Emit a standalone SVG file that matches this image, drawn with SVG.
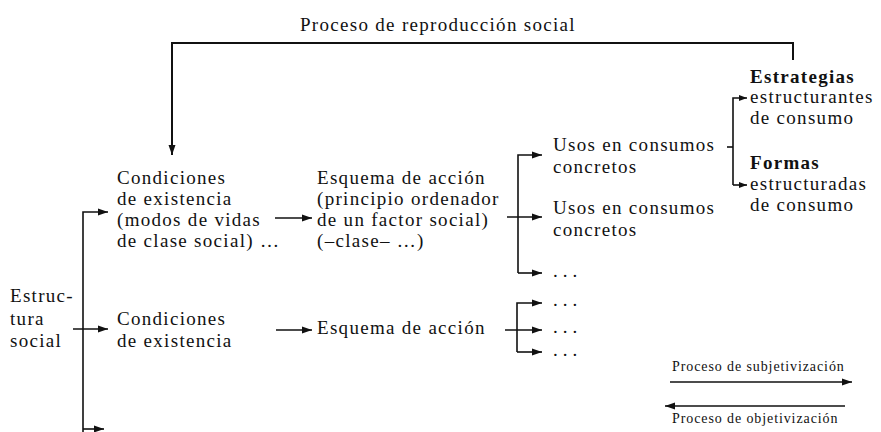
<svg xmlns="http://www.w3.org/2000/svg" width="881" height="432" viewBox="0 0 881 432">
<style>
text{font-family:"Liberation Serif","Times New Roman",serif;fill:#111}
.t{font-size:19px;letter-spacing:1.3px}
.b{font-weight:bold}
.s{font-size:14px;letter-spacing:0.9px}
.ln{fill:none;stroke:#111;stroke-width:1.6}
.th{stroke-width:2}
</style>
<defs>
<marker id="ah" markerUnits="userSpaceOnUse" markerWidth="11" markerHeight="8" refX="10" refY="4" orient="auto"><path d="M0,0.5 L10,4 L0,7.5 z" fill="#111"/></marker>
<marker id="as" markerUnits="userSpaceOnUse" markerWidth="9" markerHeight="7" refX="8" refY="3.5" orient="auto"><path d="M0,0.5 L8,3.5 L0,6.5 z" fill="#111"/></marker>
</defs>
<g id="connectors">
<path class="ln th" d="M793,60 V43 H172 V155" marker-end="url(#ah)"/>
<path class="ln" d="M83,440 V212 H108" marker-end="url(#ah)"/>
<path class="ln" d="M73,329 H108" marker-end="url(#ah)"/>
<path class="ln" d="M83,429 H104" marker-end="url(#ah)"/>
<path class="ln" d="M275,218 H312" marker-end="url(#ah)"/>
<path class="ln" d="M276,330 H312" marker-end="url(#ah)"/>
<path class="ln" d="M518,273 V155 H542" marker-end="url(#ah)"/>
<path class="ln" d="M507,217 H542" marker-end="url(#ah)"/>
<path class="ln" d="M518,273 H542" marker-end="url(#ah)"/>
<path class="ln" d="M517,352 V303 H542" marker-end="url(#ah)"/>
<path class="ln" d="M505,330 H542" marker-end="url(#ah)"/>
<path class="ln" d="M517,352 H542" marker-end="url(#ah)"/>
<path class="ln" d="M727,147 H733"/>
<path class="ln" d="M733,185 V98 H747" marker-end="url(#as)"/>
<path class="ln" d="M733,185 H747" marker-end="url(#as)"/>
<path class="ln" d="M670,382 H852" marker-end="url(#ah)"/>
<path class="ln" d="M845,406 H665" marker-end="url(#ah)"/>
</g>
<g id="title"><text class="t" x="300" y="31">Proceso de reproducción social</text></g>
<g id="estructura"><text class="t" x="10" y="302">Estruc-</text><text class="t" x="10" y="325">tura</text><text class="t" x="10" y="347">social</text></g>
<g id="condiciones1"><text class="t" x="117" y="184">Condiciones</text><text class="t" x="117" y="205">de existencia</text><text class="t" x="117" y="226">(modos de vidas</text><text class="t" x="117" y="247">de clase social) …</text></g>
<g id="condiciones2"><text class="t" x="117" y="325">Condiciones</text><text class="t" x="117" y="347">de existencia</text></g>
<g id="esquema1"><text class="t" x="317" y="184">Esquema de acción</text><text class="t" x="317" y="205">(principio ordenador</text><text class="t" x="317" y="226">de un factor social)</text><text class="t" x="317" y="247">(–clase– …)</text></g>
<g id="esquema2"><text class="t" x="317" y="334">Esquema de acción</text></g>
<g id="usos1"><text class="t" x="553" y="151">Usos en consumos</text><text class="t" x="553" y="173">concretos</text></g>
<g id="usos2"><text class="t" x="553" y="214">Usos en consumos</text><text class="t" x="553" y="236">concretos</text></g>
<g id="dots1"><text class="t" x="553" y="277" style="letter-spacing:5px">...</text></g>
<g id="dots2"><text class="t" x="553" y="306" style="letter-spacing:5px">...</text></g>
<g id="dots3"><text class="t" x="553" y="333" style="letter-spacing:5px">...</text></g>
<g id="dots4"><text class="t" x="553" y="356" style="letter-spacing:5px">...</text></g>
<g id="estrategias"><text class="t b" x="750" y="83">Estrategias</text><text class="t" x="750" y="103">estructurantes</text><text class="t" x="750" y="124">de consumo</text></g>
<g id="formas"><text class="t b" x="750" y="169">Formas</text><text class="t" x="750" y="190">estructuradas</text><text class="t" x="750" y="211">de consumo</text></g>
<g id="legend"><text class="s" x="672" y="371">Proceso de subjetivización</text><text class="s" x="672" y="423">Proceso de objetivización</text></g>
</svg>
